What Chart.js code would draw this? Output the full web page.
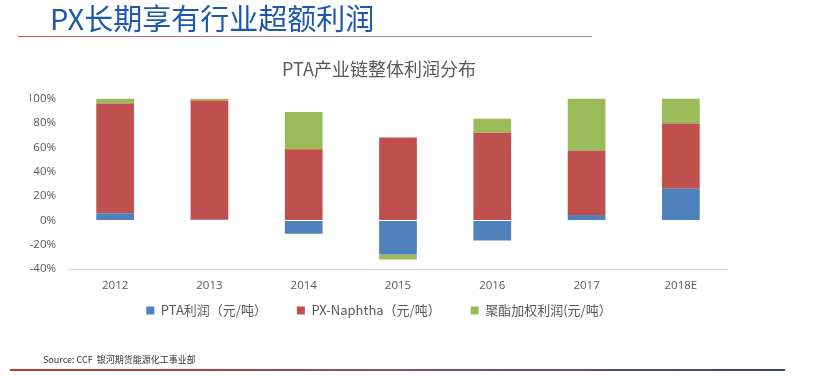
<!DOCTYPE html>
<html>
<head>
<meta charset="utf-8">
<script src="https://cdn.jsdelivr.net/npm/chart.js@4"></script>
<style>
  html, body { margin: 0; padding: 0; background: #fff; }
  body { width: 816px; height: 376px; position: relative; overflow: hidden; font-family: "Noto Sans CJK SC", "Noto Sans", sans-serif; }
  #slideTitle { position: absolute; left: 50px; top: 0px; font-size: 29px; color: #1c58b0; line-height: 34px; white-space: nowrap; }
  #topLine { position: absolute; left: 18px; top: 36px; width: 574px; height: 1px; background: linear-gradient(to right, #d9534f, #b08088 40%, #8a8fa6); }
  #source { position: absolute; left: 43px; top: 353px; font-size: 9px; line-height: 13px; color: #333; white-space: nowrap; }
  #bottomLine { position: absolute; left: 10px; top: 369px; width: 775px; height: 2px; background: linear-gradient(to right, #c0392b, #8a5070 50%, #3a4470); }
  #wrap { position: absolute; left: 0; top: 0; width: 816px; height: 376px; }
</style>
</head>
<body>
<div id="wrap"><canvas id="chart"></canvas></div>
<div id="slideTitle">PX长期享有行业超额利润</div>
<div id="topLine"></div>
<div id="source">Source: CCF&nbsp; 银河期货能源化工事业部</div>
<div id="bottomLine"></div>
<script>
// values in percent of total chain profit
const years = ['2012', '2013', '2014', '2015', '2016', '2017', '2018E'];
const ptaProfit = [6, 0.5, -11, -28, -16.5, 4.5, 26];
const pxNaphtha = [90, 98, 58.5, 68, 72, 53, 53.5];
const polyesterProfit = [4, 1.5, 30.5, -4, 11.5, 42.5, 20.5];
const yTicks = [-40, -20, 0, 20, 40, 60, 80, 100];

const tickColor = '#595959';
const fontFamily = '"Open Sans", "Noto Sans CJK SC", sans-serif';

// legend needs wide gaps between items but sits close under the axis labels
const legendNudge = {
  id: 'legendNudge',
  afterLayout(chart) {
    const lg = chart.legend;
    lg.top -= 29;
    lg.bottom -= 29;
  }
};

new Chart(document.getElementById('chart'), {
  type: 'bar',
  data: {
    labels: years,
    datasets: [
      { label: 'PTA利润（元/吨）', data: ptaProfit, backgroundColor: '#4f81bd' },
      { label: 'PX-Naphtha（元/吨）', data: pxNaphtha, backgroundColor: '#c0504d' },
      { label: '聚酯加权利润(元/吨）', data: polyesterProfit, backgroundColor: '#9bbb59' }
    ]
  },
  plugins: [legendNudge],
  options: {
    responsive: true,
    maintainAspectRatio: false,
    animation: false,
    datasets: { bar: { categoryPercentage: 1, barPercentage: 0.4 } },
    layout: { padding: { top: 50, right: 88, bottom: 20, left: 30 } },
    plugins: {
      title: {
        display: true,
        text: 'PTA产业链整体利润分布',
        color: tickColor,
        font: { size: 18, family: '"Noto Sans CJK SC", sans-serif', weight: 'normal' },
        padding: { top: 8, bottom: 19 }
      },
      legend: {
        position: 'bottom',
        labels: {
          boxWidth: 8,
          boxHeight: 8,
          color: tickColor,
          padding: 30,
          font: { size: 13, family: '"Noto Sans CJK SC", sans-serif' }
        }
      },
      tooltip: { enabled: false }
    },
    scales: {
      x: {
        stacked: true,
        grid: { display: false, drawTicks: false },
        border: { display: false },
        ticks: { color: tickColor, padding: 10, font: { size: 11.5, family: fontFamily } }
      },
      y: {
        stacked: true,
        min: -40,
        max: 100,
        afterFit: (s) => { s.width = 38; },
        afterBuildTicks: (s) => { s.ticks = yTicks.map(v => ({ value: v })); },
        grid: {
          drawTicks: false,
          color: (c) => c.tick && c.tick.value === -40 ? '#d9d9d9' : 'rgba(0,0,0,0)'
        },
        border: { display: false },
        ticks: {
          color: tickColor,
          padding: 12,
          font: { size: 11.5, family: fontFamily },
          callback: (v) => v + '%'
        }
      }
    }
  }
});
</script>
</body>
</html>
